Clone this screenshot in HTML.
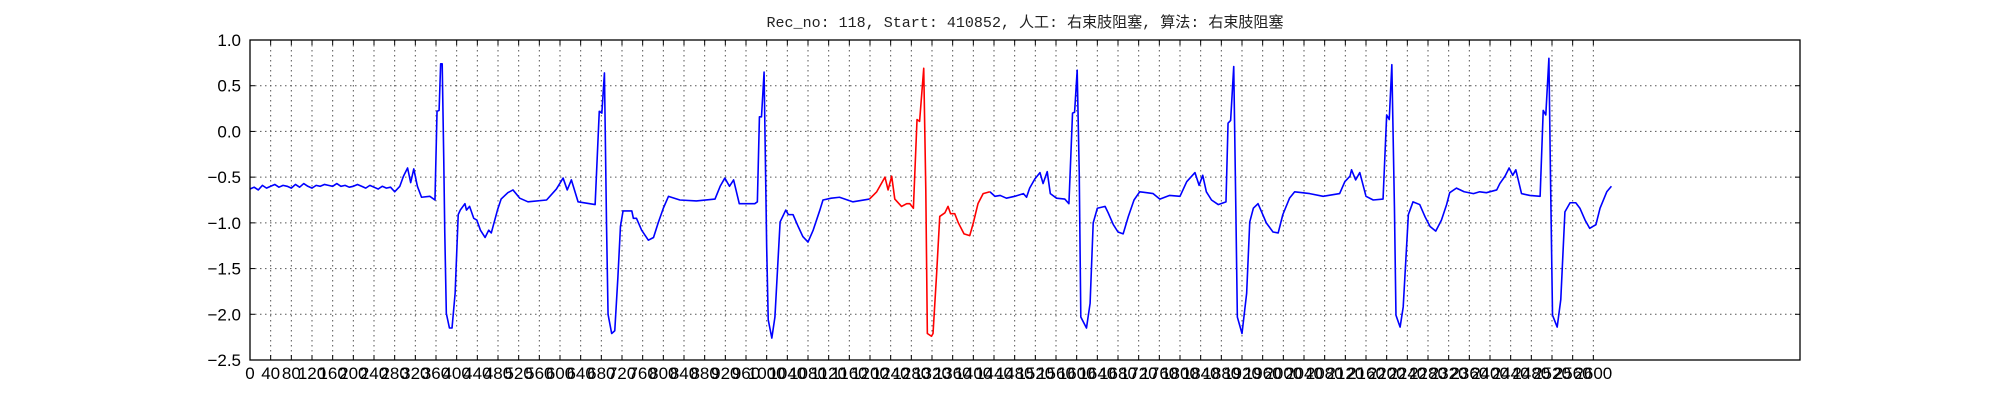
<!DOCTYPE html>
<html><head><meta charset="utf-8"><style>
html,body{margin:0;padding:0;background:#fff;}
svg{display:block;}
</style></head><body>
<svg id="chart" width="2000" height="400" xmlns="http://www.w3.org/2000/svg">
<rect width="2000" height="400" fill="#fff"/>
<text x="1025" y="27" text-anchor="middle" font-family="Liberation Mono, 'Noto Sans CJK SC', monospace" font-size="15" textLength="517" lengthAdjust="spacingAndGlyphs" fill="#222">Rec_no: 118, Start: 410852, 人工: 右束肢阻塞, 算法: 右束肢阻塞</text>
<g id="grid"></g>
<g id="series"></g>
<rect x="250" y="40" width="1550" height="320" fill="none" stroke="#000" stroke-width="1.3"/>
<g id="ticks"></g>
</svg>
<script>
const xMin = 0, xMax = 3000, yMin = -2.5, yMax = 1.0;
const yTicks = [1.0, 0.5, 0.0, -0.5, -1.0, -1.5, -2.0, -2.5];
const yTickLabels = ["1.0", "0.5", "0.0", "\u22120.5", "\u22121.0", "\u22121.5", "\u22122.0", "\u22122.5"];
const xTickStep = 40, xTickLast = 2600;
const sampleIdx = [0,8,16,24,32,40,48,56,64,72,80,88,96,104,112,120,128,136,144,152,160,168,176,184,192,200,208,216,224,232,240,248,256,264,272,280,
290,297,305,311,317,324,332,348,358,362,366,369,372,375,377,380,386,391,397,403,407,416,419,425,433,439,446,455,462,467,479,486,499,509,522,538,574,593,606,614,622,635,
668,676,681,686,690,693,700,706,712,717,722,739,742,748,758,771,781,790,800,810,832,864,900,910,919,928,936,947,977,982,986,990,995,1000,1003,1010,1016,1026,1037,1042,1051,1061,1070,1080,1090,1103,1109,1125,1141,1167,1199,
1213,1229,1235,1242,1248,1261,1271,1277,1284,1291,1296,1304,1308,1311,1319,1322,1329,1335,1345,1351,1356,1364,1371,1382,1393,1400,1409,1419,1432,
1442,1452,1464,1480,1497,1503,1509,1519,1529,1535,1543,1549,1561,1577,1585,1592,1596,1601,1605,1608,1619,1626,1632,1640,1655,1661,1671,1680,1690,1700,1711,1722,1748,1761,1780,1800,1813,1829,1837,1844,1851,1861,1874,1889,1893,1898,1904,1908,1911,1920,1929,1935,1942,1951,1958,1967,1980,1990,1999,2012,2022,2051,2077,2109,2119,2129,
2132,2140,2148,2160,2174,2193,2200,2205,2210,2215,2218,2226,2232,2242,2251,2264,2274,2284,2295,2306,2316,2322,2335,2350,2368,2380,2393,2413,2419,2429,2437,2444,2450,2461,2477,2497,2503,2508,2514,2517,2521,2530,2537,2545,2555,2566,2574,2584,2593,2605,2613,2626,2635];
const ecgValues = [-0.63,-0.61,-0.64,-0.59,-0.62,-0.60,-0.58,-0.61,-0.59,-0.60,-0.62,-0.58,-0.61,-0.57,-0.60,-0.62,-0.59,-0.60,-0.58,-0.59,-0.60,-0.57,-0.60,-0.59,-0.61,-0.60,-0.58,-0.60,-0.62,-0.59,-0.61,-0.63,-0.60,-0.62,-0.61,-0.66,
-0.60,-0.49,-0.40,-0.56,-0.41,-0.60,-0.72,-0.71,-0.75,0.22,0.23,0.74,0.74,-0.30,-1.11,-1.99,-2.15,-2.15,-1.77,-0.91,-0.86,-0.79,-0.86,-0.82,-0.95,-0.97,-1.08,-1.16,-1.08,-1.11,-0.86,-0.74,-0.67,-0.64,-0.73,-0.77,-0.75,-0.63,-0.51,-0.64,-0.53,-0.77,
-0.80,0.22,0.20,0.64,-1.00,-2.00,-2.21,-2.18,-1.60,-1.04,-0.87,-0.87,-0.95,-0.95,-1.08,-1.19,-1.16,-1.00,-0.84,-0.71,-0.75,-0.76,-0.74,-0.60,-0.51,-0.60,-0.53,-0.79,-0.79,-0.77,0.16,0.16,0.65,-1.26,-2.06,-2.26,-2.03,-0.99,-0.86,-0.91,-0.91,-1.04,-1.15,-1.21,-1.08,-0.86,-0.75,-0.73,-0.72,-0.77,-0.74,
-0.66,-0.50,-0.64,-0.49,-0.74,-0.82,-0.79,-0.79,-0.84,0.13,0.11,0.69,-0.64,-2.21,-2.24,-2.21,-1.55,-0.93,-0.89,-0.82,-0.90,-0.90,-1.00,-1.12,-1.14,-1.00,-0.79,-0.68,-0.66,
-0.71,-0.70,-0.73,-0.71,-0.68,-0.72,-0.62,-0.52,-0.45,-0.57,-0.44,-0.68,-0.73,-0.74,-0.79,0.20,0.21,0.67,-0.46,-2.03,-2.15,-1.88,-1.00,-0.84,-0.82,-0.89,-1.02,-1.10,-1.12,-0.93,-0.75,-0.66,-0.68,-0.74,-0.70,-0.71,-0.55,-0.45,-0.59,-0.48,-0.66,-0.75,-0.80,-0.77,0.09,0.12,0.71,-0.82,-2.03,-2.21,-1.77,-0.99,-0.84,-0.79,-0.88,-1.00,-1.10,-1.11,-0.91,-0.73,-0.66,-0.68,-0.71,-0.68,-0.55,-0.49,
-0.42,-0.53,-0.45,-0.71,-0.75,-0.74,0.18,0.13,0.73,-0.82,-2.01,-2.14,-1.92,-0.91,-0.77,-0.80,-0.93,-1.04,-1.09,-0.97,-0.80,-0.67,-0.62,-0.66,-0.68,-0.66,-0.67,-0.64,-0.57,-0.49,-0.40,-0.48,-0.42,-0.68,-0.70,-0.71,0.23,0.18,0.80,-0.46,-2.01,-2.14,-1.84,-0.88,-0.78,-0.78,-0.84,-0.97,-1.06,-1.02,-0.84,-0.66,-0.60];
const redStart = 1199, redEnd = 1432;

const NS = "http://www.w3.org/2000/svg";
const L = 250, R = 1800, T = 40, B = 360;
function xs(v){ return L + (v - xMin) / (xMax - xMin) * (R - L); }
function ys(v){ return T + (yMax - v) / (yMax - yMin) * (B - T); }
const grid = document.getElementById('grid');
const ticks = document.getElementById('ticks');
const series = document.getElementById('series');
function mk(tag, attrs, parent){ const e = document.createElementNS(NS, tag); for (const k in attrs) e.setAttribute(k, attrs[k]); parent.appendChild(e); return e; }

yTicks.forEach((v, i) => {
  const y = ys(v);
  const g = mk('line', {x1:L, x2:R, y1:y, y2:y, stroke:'#555', 'stroke-width':1, 'stroke-dasharray':'1.5,3.5'}, grid);
  
  
  mk('line', {x1:L, x2:L+5, y1:y, y2:y, stroke:'#000'}, ticks);
  mk('line', {x1:R-5, x2:R, y1:y, y2:y, stroke:'#000'}, ticks);
  const t = mk('text', {x:L-9, y:y+6, 'text-anchor':'end', 'font-family':'Liberation Sans, sans-serif', 'font-size':17, fill:'#000'}, ticks);
  t.textContent = yTickLabels[i];
  
  
});
for (let v = 0; v <= xTickLast; v += xTickStep) {
  const x = xs(v);
  const g = mk('line', {x1:x, x2:x, y1:T, y2:B, stroke:'#555', 'stroke-width':1, 'stroke-dasharray':'1.5,3.5'}, grid);
  
  
  mk('line', {x1:x, x2:x, y1:B-5, y2:B, stroke:'#000'}, ticks);
  mk('line', {x1:x, x2:x, y1:T, y2:T+5, stroke:'#000'}, ticks);
  const t = mk('text', {x:x, y:B+19, 'text-anchor':'middle', 'font-family':'Liberation Sans, sans-serif', 'font-size':17, fill:'#000'}, ticks);
  t.textContent = String(v);
  
  
}
function seg(filter, color, name){
  const pts = [];
  sampleIdx.forEach((s, i) => { if (filter(s)) pts.push(xs(s).toFixed(2) + ',' + ys(ecgValues[i]).toFixed(2)); });
  const p = mk('polyline', {points: pts.join(' '), fill:'none', stroke:color, 'stroke-width':1.6, 'stroke-linejoin':'round'}, series);
  
  
}
seg(s => s <= redStart, '#0000ff', 'ecg-line-before');
seg(s => s >= redEnd, '#0000ff', 'ecg-line-after');
seg(s => s >= redStart && s <= redEnd, '#ff0000', 'ecg-line-highlighted-beat');
</script>
</body></html>
